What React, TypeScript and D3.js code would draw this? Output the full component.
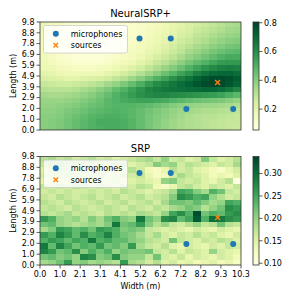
import React from 'react';
import * as d3 from 'd3';

// room size (m)
const roomWidth = 10.3;
const roomLength = 9.8;

const xTicks = [0, 1.03, 2.06, 3.09, 4.12, 5.15, 6.18, 7.21, 8.24, 9.27, 10.3];
const xTickLabels = ['0.0', '1.0', '2.1', '3.1', '4.1', '5.2', '6.2', '7.2', '8.2', '9.3', '10.3'];
const yTicks = [0, 0.98, 1.96, 2.94, 3.92, 4.9, 5.88, 6.86, 7.84, 8.82, 9.8];
const yTickLabels = ['0.0', '1.0', '2.0', '2.9', '3.9', '4.9', '5.9', '6.9', '7.8', '8.8', '9.8'];

const micX = [5.1, 6.7, 7.5, 9.9];
const micY = [8.3, 8.3, 1.9, 1.9];
const srcX = [9.1];
const srcY = [4.3];

// NeuralSRP+ map, rows listed from top (9.8 m) to bottom (0 m)
const neuralRows: number[][] = [
  [0.18,0.16,0.14,0.12,0.11,0.10,0.09,0.09,0.09,0.09,0.10,0.11,0.12,0.13,0.15,0.17,0.19,0.21,0.23,0.25,0.27,0.29,0.31,0.33,0.34],
  [0.17,0.15,0.13,0.11,0.10,0.09,0.08,0.08,0.08,0.09,0.10,0.11,0.12,0.14,0.16,0.18,0.20,0.22,0.24,0.27,0.29,0.31,0.33,0.35,0.36],
  [0.16,0.14,0.12,0.10,0.09,0.08,0.07,0.07,0.08,0.09,0.10,0.11,0.13,0.15,0.17,0.19,0.21,0.24,0.26,0.29,0.31,0.33,0.35,0.37,0.38],
  [0.15,0.13,0.11,0.10,0.08,0.07,0.07,0.07,0.08,0.09,0.10,0.12,0.14,0.16,0.18,0.20,0.23,0.26,0.28,0.31,0.33,0.36,0.38,0.40,0.41],
  [0.15,0.13,0.11,0.09,0.08,0.07,0.07,0.07,0.08,0.09,0.11,0.13,0.15,0.17,0.19,0.22,0.25,0.28,0.31,0.34,0.36,0.39,0.41,0.43,0.44],
  [0.15,0.13,0.11,0.10,0.08,0.08,0.08,0.08,0.09,0.10,0.12,0.14,0.16,0.19,0.21,0.24,0.27,0.30,0.34,0.37,0.40,0.43,0.45,0.47,0.48],
  [0.16,0.14,0.12,0.10,0.09,0.09,0.09,0.09,0.10,0.12,0.13,0.15,0.18,0.21,0.24,0.27,0.30,0.34,0.38,0.41,0.44,0.47,0.50,0.52,0.52],
  [0.17,0.15,0.13,0.12,0.11,0.10,0.10,0.11,0.12,0.14,0.16,0.18,0.21,0.24,0.28,0.31,0.35,0.39,0.43,0.47,0.50,0.53,0.56,0.57,0.57],
  [0.18,0.17,0.15,0.14,0.13,0.13,0.13,0.14,0.15,0.17,0.19,0.22,0.25,0.29,0.33,0.37,0.41,0.45,0.50,0.54,0.58,0.61,0.63,0.64,0.63],
  [0.21,0.20,0.18,0.17,0.17,0.17,0.17,0.18,0.20,0.22,0.25,0.28,0.32,0.36,0.40,0.45,0.49,0.54,0.58,0.63,0.67,0.70,0.71,0.71,0.69],
  [0.24,0.23,0.22,0.21,0.21,0.22,0.23,0.24,0.26,0.29,0.32,0.36,0.40,0.45,0.50,0.54,0.59,0.63,0.67,0.72,0.76,0.79,0.79,0.77,0.74],
  [0.28,0.27,0.26,0.26,0.27,0.28,0.30,0.32,0.35,0.38,0.42,0.46,0.51,0.56,0.60,0.63,0.66,0.69,0.72,0.76,0.79,0.80,0.79,0.76,0.72],
  [0.32,0.31,0.31,0.31,0.32,0.34,0.36,0.39,0.42,0.46,0.50,0.54,0.58,0.62,0.64,0.66,0.67,0.68,0.69,0.70,0.71,0.71,0.69,0.66,0.62],
  [0.35,0.34,0.34,0.35,0.36,0.38,0.40,0.43,0.46,0.50,0.53,0.56,0.59,0.61,0.62,0.62,0.61,0.60,0.59,0.58,0.57,0.56,0.54,0.51,0.48],
  [0.37,0.37,0.37,0.38,0.39,0.41,0.43,0.45,0.48,0.50,0.52,0.53,0.54,0.54,0.53,0.52,0.50,0.48,0.46,0.45,0.44,0.43,0.42,0.40,0.38],
  [0.38,0.38,0.39,0.40,0.41,0.43,0.45,0.46,0.48,0.49,0.49,0.49,0.48,0.47,0.45,0.43,0.41,0.39,0.38,0.37,0.36,0.36,0.35,0.34,0.33],
  [0.39,0.39,0.40,0.42,0.43,0.45,0.47,0.48,0.49,0.50,0.49,0.48,0.46,0.44,0.42,0.40,0.38,0.36,0.35,0.34,0.33,0.33,0.32,0.31,0.30],
  [0.40,0.40,0.41,0.43,0.45,0.47,0.49,0.50,0.51,0.51,0.50,0.48,0.46,0.43,0.41,0.39,0.37,0.35,0.33,0.32,0.31,0.31,0.30,0.29,0.28],
  [0.40,0.41,0.42,0.44,0.46,0.48,0.50,0.52,0.52,0.52,0.51,0.49,0.46,0.43,0.41,0.38,0.36,0.34,0.33,0.32,0.31,0.30,0.29,0.28,0.28],
  [0.40,0.41,0.42,0.44,0.46,0.48,0.50,0.51,0.52,0.52,0.51,0.49,0.46,0.43,0.40,0.38,0.36,0.34,0.33,0.32,0.31,0.30,0.29,0.28,0.27],
];

// SRP map, rows from top to bottom
const srpRows: number[][] = [
  [0.18,0.19,0.17,0.18,0.16,0.17,0.18,0.16,0.17,0.15,0.16,0.17,0.18,0.19,0.17,0.20,0.16,0.17,0.15,0.16,0.21,0.17,0.15,0.16,0.18],
  [0.17,0.18,0.19,0.17,0.18,0.16,0.17,0.18,0.16,0.17,0.18,0.15,0.16,0.17,0.21,0.19,0.20,0.16,0.18,0.17,0.16,0.15,0.17,0.16,0.19],
  [0.15,0.16,0.17,0.16,0.15,0.17,0.16,0.15,0.17,0.16,0.15,0.18,0.16,0.13,0.12,0.14,0.18,0.16,0.17,0.15,0.14,0.13,0.12,0.14,0.16],
  [0.16,0.15,0.16,0.17,0.16,0.15,0.16,0.17,0.15,0.16,0.17,0.16,0.17,0.14,0.12,0.13,0.16,0.19,0.17,0.16,0.15,0.13,0.14,0.13,0.15],
  [0.14,0.15,0.14,0.15,0.14,0.16,0.15,0.14,0.15,0.16,0.14,0.15,0.16,0.15,0.14,0.20,0.21,0.17,0.16,0.17,0.15,0.14,0.16,0.18,0.10],
  [0.17,0.16,0.17,0.16,0.18,0.17,0.16,0.17,0.16,0.15,0.17,0.16,0.18,0.17,0.13,0.12,0.14,0.17,0.18,0.16,0.15,0.17,0.16,0.15,0.17],
  [0.16,0.17,0.16,0.17,0.16,0.16,0.17,0.16,0.17,0.16,0.18,0.17,0.16,0.15,0.16,0.17,0.19,0.25,0.24,0.21,0.19,0.24,0.22,0.17,0.16],
  [0.17,0.16,0.18,0.17,0.16,0.17,0.18,0.16,0.17,0.18,0.16,0.17,0.18,0.16,0.17,0.18,0.21,0.27,0.26,0.24,0.25,0.20,0.18,0.16,0.17],
  [0.18,0.17,0.16,0.18,0.17,0.16,0.17,0.18,0.16,0.17,0.18,0.16,0.17,0.18,0.16,0.19,0.22,0.22,0.21,0.23,0.21,0.19,0.20,0.25,0.24],
  [0.17,0.18,0.17,0.16,0.18,0.17,0.16,0.17,0.18,0.17,0.16,0.18,0.17,0.16,0.18,0.17,0.19,0.20,0.22,0.21,0.18,0.20,0.22,0.27,0.26],
  [0.18,0.17,0.18,0.19,0.17,0.18,0.17,0.16,0.18,0.17,0.18,0.17,0.19,0.18,0.17,0.20,0.25,0.27,0.24,0.33,0.22,0.24,0.23,0.26,0.27],
  [0.26,0.24,0.20,0.19,0.20,0.18,0.21,0.19,0.22,0.24,0.21,0.20,0.29,0.22,0.20,0.27,0.28,0.23,0.25,0.32,0.24,0.30,0.29,0.27,0.26],
  [0.22,0.23,0.20,0.19,0.18,0.19,0.20,0.19,0.21,0.29,0.22,0.23,0.26,0.21,0.18,0.20,0.17,0.16,0.18,0.20,0.17,0.18,0.22,0.18,0.17],
  [0.19,0.21,0.26,0.25,0.23,0.24,0.22,0.26,0.25,0.24,0.21,0.22,0.21,0.17,0.16,0.15,0.16,0.15,0.14,0.16,0.15,0.14,0.16,0.15,0.14],
  [0.26,0.24,0.28,0.26,0.23,0.27,0.24,0.25,0.28,0.24,0.22,0.21,0.19,0.17,0.19,0.16,0.15,0.17,0.16,0.18,0.16,0.17,0.15,0.14,0.16],
  [0.24,0.26,0.25,0.23,0.25,0.24,0.29,0.24,0.25,0.23,0.23,0.21,0.20,0.18,0.17,0.16,0.22,0.17,0.16,0.15,0.17,0.16,0.18,0.17,0.15],
  [0.29,0.23,0.28,0.25,0.22,0.24,0.23,0.26,0.22,0.23,0.21,0.26,0.19,0.17,0.16,0.18,0.15,0.14,0.16,0.15,0.14,0.16,0.15,0.17,0.16],
  [0.28,0.26,0.22,0.23,0.27,0.21,0.24,0.22,0.24,0.20,0.22,0.21,0.21,0.22,0.17,0.16,0.18,0.15,0.17,0.16,0.15,0.20,0.16,0.15,0.14],
  [0.22,0.23,0.21,0.22,0.20,0.28,0.27,0.21,0.22,0.27,0.21,0.20,0.20,0.17,0.22,0.16,0.15,0.17,0.14,0.16,0.15,0.14,0.16,0.15,0.13],
  [0.19,0.20,0.22,0.26,0.20,0.21,0.19,0.20,0.19,0.18,0.26,0.19,0.18,0.16,0.18,0.15,0.16,0.14,0.15,0.13,0.14,0.15,0.13,0.14,0.12],
];

const neuralCbTicks = [0.2, 0.4, 0.6, 0.8];
const neuralCbLabels = ['0.2', '0.4', '0.6', '0.8'];
const srpCbTicks = [0.1, 0.15, 0.2, 0.25, 0.3];
const srpCbLabels = ['0.10', '0.15', '0.20', '0.25', '0.30'];

const FONT = 'DejaVu Sans, sans-serif';
const X0 = 40;
const X1 = 241;

type PanelProps = {
  id: string;
  title: string;
  rows: number[][];
  domain: [number, number];
  cbTicks: number[];
  cbLabels: string[];
  top: number;
  bottom: number;
  showX: boolean;
};

const Panel = ({ id, title, rows, domain, cbTicks, cbLabels, top, bottom, showX }: PanelProps) => {
  const x = d3.scaleLinear().domain([0, roomWidth]).range([X0, X1]);
  const y = d3.scaleLinear().domain([0, roomLength]).range([bottom, top]);
  const col = d3.scaleBand<number>().domain(d3.range(rows[0].length)).range([X0, X1]);
  const row = d3.scaleBand<number>().domain(d3.range(rows.length)).range([top, bottom]);
  const color = d3.scaleSequential(d3.interpolateYlGn).domain(domain);

  const cbX = 253;
  const cbW = 6;
  const cbY = d3.scaleLinear().domain(domain).range([bottom, top]);
  const stops = d3.range(0, 1.0001, 0.05);

  const lx = X0 + 3.5;
  const ly = top + 3.5;

  return (
    <g>
      <text x={(X0 + X1) / 2} y={top - 5} textAnchor="middle" fontSize={10} fontFamily={FONT}>
        {title}
      </text>
      <g shapeRendering="crispEdges">
        {rows.map((r, ri) =>
          r.map((v, ci) => (
            <rect
              key={`${ri}-${ci}`}
              x={col(ci)}
              y={row(ri)}
              width={col.bandwidth() + 0.3}
              height={row.bandwidth() + 0.3}
              fill={color(v)}
            />
          ))
        )}
      </g>
      <rect x={X0} y={top} width={X1 - X0} height={bottom - top} fill="none" stroke="#333" strokeWidth={0.8} />

      {/* y axis */}
      {yTicks.map((t, i) => (
        <g key={i}>
          <line x1={X0 - 3.5} x2={X0} y1={y(t)} y2={y(t)} stroke="#333" strokeWidth={0.8} />
          <text x={X0 - 5.5} y={y(t)} dy="0.35em" textAnchor="end" fontSize={8} fontFamily={FONT}>
            {yTickLabels[i]}
          </text>
        </g>
      ))}
      <text
        transform={`translate(13,${(top + bottom) / 2}) rotate(-90)`}
        textAnchor="middle"
        dy="0.35em"
        fontSize={8}
        fontFamily={FONT}
      >
        Length (m)
      </text>

      {showX &&
        xTicks.map((t, i) => (
          <g key={i}>
            <line x1={x(t)} x2={x(t)} y1={bottom} y2={bottom + 3.5} stroke="#333" strokeWidth={0.8} />
            <text x={x(t)} y={bottom + 12} textAnchor="middle" fontSize={8} fontFamily={FONT}>
              {xTickLabels[i]}
            </text>
          </g>
        ))}
      {showX && (
        <text x={(X0 + X1) / 2} y={bottom + 24} textAnchor="middle" fontSize={8} fontFamily={FONT}>
          Width (m)
        </text>
      )}

      {/* markers */}
      {micX.map((mx, i) => (
        <circle key={i} cx={x(mx)} cy={y(micY[i])} r={3} fill="#1f77b4" />
      ))}
      {srcX.map((sx, i) => (
        <path
          key={i}
          d={`M${x(sx) - 2.5},${y(srcY[i]) - 2.5}L${x(sx) + 2.5},${y(srcY[i]) + 2.5}M${x(sx) - 2.5},${y(srcY[i]) + 2.5}L${x(sx) + 2.5},${y(srcY[i]) - 2.5}`}
          stroke="#ff7f0e"
          strokeWidth={1.4}
        />
      ))}

      {/* legend */}
      <rect x={lx} y={ly} width={84} height={27.5} rx={2} fill="white" fillOpacity={0.8} stroke="#ccc" strokeWidth={0.8} />
      <circle cx={lx + 12.3} cy={ly + 8.3} r={3} fill="#1f77b4" />
      <text x={lx + 27.3} y={ly + 8.3} dy="0.35em" fontSize={8} fontFamily={FONT}>
        microphones
      </text>
      <path
        d={`M${lx + 10},${ly + 17.5}L${lx + 14.6},${ly + 22.1}M${lx + 10},${ly + 22.1}L${lx + 14.6},${ly + 17.5}`}
        stroke="#ff7f0e"
        strokeWidth={1.4}
      />
      <text x={lx + 27.3} y={ly + 19.8} dy="0.35em" fontSize={8} fontFamily={FONT}>
        sources
      </text>

      {/* colorbar */}
      <defs>
        <linearGradient id={`cb-${id}`} x1="0" y1="1" x2="0" y2="0">
          {stops.map((s, i) => (
            <stop key={i} offset={s} stopColor={color(domain[0] + s * (domain[1] - domain[0]))} />
          ))}
        </linearGradient>
      </defs>
      <rect x={cbX} y={top} width={cbW} height={bottom - top} fill={`url(#cb-${id})`} stroke="#333" strokeWidth={0.8} />
      {cbTicks.map((t, i) => (
        <g key={i}>
          <line x1={cbX + cbW} x2={cbX + cbW + 3.5} y1={cbY(t)} y2={cbY(t)} stroke="#333" strokeWidth={0.8} />
          <text x={cbX + cbW + 5} y={cbY(t)} dy="0.35em" fontSize={8} fontFamily={FONT}>
            {cbLabels[i]}
          </text>
        </g>
      ))}
    </g>
  );
};

export default function App() {
  return (
    <svg width={300} height={300} style={{ position: 'absolute', left: 0, top: 0, background: 'white' }}>
      <Panel
        id="neural"
        title="NeuralSRP+"
        rows={neuralRows}
        domain={[0.055, 0.805]}
        cbTicks={neuralCbTicks}
        cbLabels={neuralCbLabels}
        top={22}
        bottom={130}
        showX={false}
      />
      <Panel
        id="srp"
        title="SRP"
        rows={srpRows}
        domain={[0.096, 0.338]}
        cbTicks={srpCbTicks}
        cbLabels={srpCbLabels}
        top={156.5}
        bottom={265}
        showX={true}
      />
    </svg>
  );
}
